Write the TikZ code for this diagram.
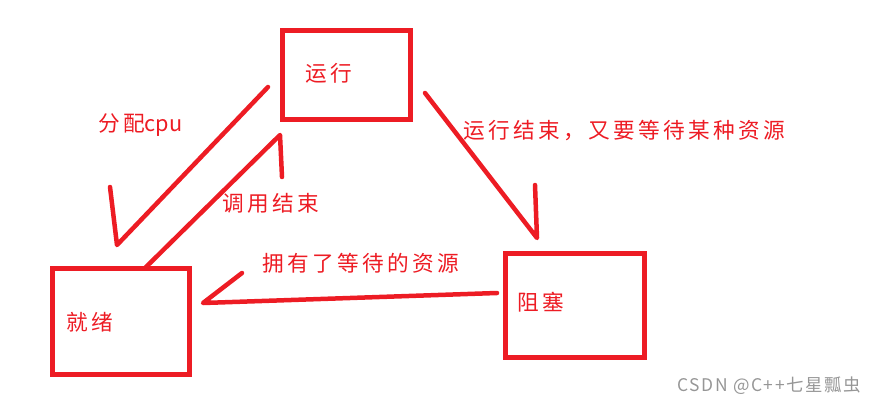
\documentclass[tikz,border=0pt]{standalone}
\usepackage{fontspec}
\usepackage{xcolor}
\newfontfamily\cjk[LetterSpace=15.5]{Noto Sans CJK SC}
\newfontfamily\plainfont{Noto Sans CJK SC}
\newfontfamily\wmfont[LetterSpace=9]{Noto Sans CJK SC}
\definecolor{pen}{RGB}{237,28,36}
\definecolor{wmgray}{RGB}{150,150,150}
\newcommand{\pxl}{0.025cm}

\tikzset{
  box/.style={draw=pen, line width=3.5pt, inner sep=0pt},
  lbl/.style={text=pen, font=\cjk\fontsize{15.4}{17}\selectfont, inner sep=0pt, anchor=west},
  stroke/.style={draw=pen, line width=3.2pt, line cap=round, line join=round},
}

\begin{document}
\begin{tikzpicture}[x=\pxl, y=-\pxl]
    \useasboundingbox (0,0) rectangle (878,406);
    % the three states
    \node[box, minimum width=128*\pxl, minimum height=89*\pxl] (yunxing) at (346.5,75) {};
    \node[box, minimum width=137*\pxl, minimum height=106*\pxl] (jiuxu) at (121,321.5) {};
    \node[box, minimum width=139*\pxl, minimum height=104*\pxl] (zusai) at (575,305.5) {};
    \node[lbl] (yunxing-t) at (305,73) {运行};
    \node[lbl] (jiuxu-t) at (66,322) {就绪};
    \node[lbl] (zusai-t) at (517,302) {阻塞};

    % hand drawn arrows: tail, tip, barb
    \coordinate (fp-s) at (268,87);
    \coordinate (fp-t) at (117,245);
    \coordinate (fp-b) at (110,187);
    \coordinate (dy-s) at (145,268);
    \coordinate (dy-t) at (280,135);
    \coordinate (dy-b) at (282,177);
    \coordinate (js-s) at (425,93);
    \coordinate (js-t) at (537,238);
    \coordinate (js-b) at (535,185);
    \coordinate (yy-s) at (497,293);
    \coordinate (yy-t) at (203,303);
    \coordinate (yy-b) at (242,273);
    \draw[stroke] (fp-s) -- (fp-t) -- (fp-b);
    \draw[stroke] (dy-s) -- (dy-t) -- (dy-b);
    \draw[stroke] (js-s) -- (js-t) -- (js-b);
    \draw[stroke] (yy-s) -- (yy-t) -- (yy-b);

    % labels
    \node[lbl] (fp-l) at (98,125) {分配{\plainfont cpu}};
    \node[lbl] (dy-l) at (222,203) {调用结束};
    \node[lbl] (js-l) at (463,131) {运行结束，又要等待某种资源};
    \node[lbl] (yy-l) at (262,263) {拥有了等待的资源};
    \node[anchor=west, inner sep=0pt, text=wmgray, font=\wmfont\fontsize{12.4}{14}\selectfont] (wm) at (677,386) {CSDN @C++七星瓢虫};
\end{tikzpicture}
\end{document}
